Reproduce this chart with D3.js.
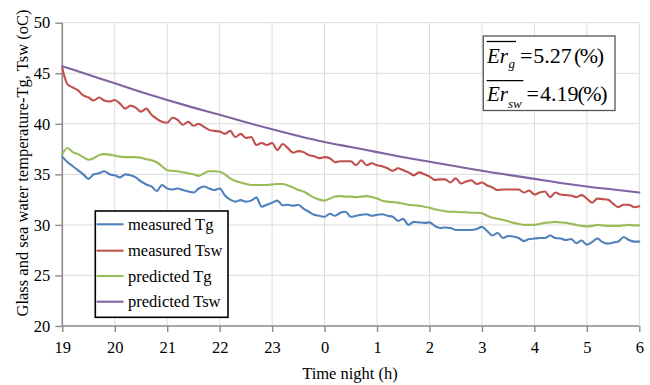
<!DOCTYPE html>
<html>
<head>
<meta charset="utf-8">
<script src="https://cdn.jsdelivr.net/npm/d3@7"></script>
<style>
  html, body { margin: 0; padding: 0; background: #fff; }
  svg { display: block; }
  text { font-family: "Liberation Serif", "Times New Roman", serif; fill: #000; }
</style>
</head>
<body>
<svg id="chart" width="650" height="385"></svg>
<script>
// Night-time glass (Tg) and sea water (Tsw) temperatures, 19:00 to 06:00.
// Measured series and predicted Tg are sampled every 0.1 h; predicted Tsw every 0.5 h.
const startHour = 19;
const sampleStep = 0.1;
const predictedTswStep = 0.5;

const measuredTg = [
  36.75, 36.2, 35.8, 35.4, 35.0, 34.55, 35.0, 35.1, 35.3, 35.0,
  34.9, 34.7, 35.0, 34.9, 34.7, 34.3, 34.0, 33.8, 33.35, 33.95,
  33.6, 33.5, 33.6, 33.45, 33.3, 33.2, 33.6, 33.8, 33.6, 33.45,
  33.6, 32.9, 32.5, 32.3, 32.45, 32.3, 32.4, 32.7, 31.8, 32.0,
  32.2, 32.4, 31.95, 32.0, 31.9, 32.0, 31.6, 31.3, 31.0, 30.9,
  30.8, 31.1, 30.9, 31.2, 31.3, 30.8, 30.9, 31.0, 31.05, 30.9,
  31.0, 31.05, 30.9, 30.8, 30.4, 30.6, 30.0, 30.3, 30.25, 30.2,
  30.25, 29.9, 29.7, 29.75, 29.7, 29.5, 29.5, 29.5, 29.5, 29.6,
  29.8, 29.4, 28.95, 29.2, 28.7, 28.9, 28.85, 28.7, 28.4, 28.6,
  28.65, 28.7, 28.7, 28.95, 28.7, 28.65, 28.5, 28.6, 28.2, 28.45,
  28.05, 28.3, 28.65, 28.3, 28.15, 28.25, 28.35, 28.8, 28.5, 28.35,
  28.35
];

const measuredTsw = [
  45.5, 43.9, 43.6, 43.3, 42.8, 42.6, 42.3, 42.6, 42.3, 42.2,
  42.35, 42.0, 41.5, 41.8, 41.6, 41.2, 41.5, 40.9, 40.5, 40.2,
  40.1, 40.6, 40.4, 39.9, 40.2, 39.8, 40.0, 39.7, 39.4, 39.3,
  39.25, 39.0, 39.3, 38.7, 39.0, 38.6, 38.7, 37.9, 38.1, 37.9,
  38.1, 37.4, 38.0, 37.6, 37.15, 37.3, 37.2, 36.9, 36.8, 36.6,
  36.7, 36.6, 36.2, 36.3, 36.3, 36.3, 35.9, 36.4, 35.9, 36.1,
  35.9, 35.8, 35.6, 35.35, 35.6, 35.4, 35.2, 34.9, 35.2, 35.0,
  34.8, 34.45, 34.5, 34.5, 34.2, 34.6, 34.1, 34.3, 34.4, 34.05,
  34.2, 33.9, 33.7, 33.45, 33.5, 33.5, 33.5, 33.5, 33.2, 33.4,
  33.0, 33.2, 33.3, 32.75, 33.2, 33.0, 32.95, 32.9, 32.75, 32.95,
  32.6, 32.2, 32.6, 32.55, 32.5, 32.1, 31.75, 32.0, 32.0, 31.75,
  31.85
];

const predictedTg = [
  37.0, 37.6, 37.2, 37.0, 36.7, 36.45, 36.6, 36.9, 37.0, 36.95,
  36.85, 36.75, 36.7, 36.7, 36.7, 36.65, 36.5, 36.4, 36.2, 35.8,
  35.4, 35.35, 35.3, 35.2, 35.1, 35.0, 34.85, 35.1, 35.3, 35.3,
  35.25, 35.0, 34.6, 34.35, 34.2, 34.05, 33.95, 33.95, 33.95, 33.95,
  34.0, 34.05, 34.05, 33.9, 33.7, 33.45, 33.3, 33.0, 32.7, 32.5,
  32.4, 32.6, 32.8, 32.85, 32.8, 32.8, 32.75, 32.8, 32.85, 32.75,
  32.6, 32.4, 32.3, 32.25, 32.2, 32.1, 32.0, 31.95, 31.9, 31.8,
  31.7, 31.55, 31.45, 31.35, 31.3, 31.3, 31.25, 31.25, 31.2, 31.2,
  31.15, 30.9, 30.7, 30.6, 30.5, 30.35, 30.2, 30.1, 30.0, 30.0,
  30.0, 30.1, 30.2, 30.25, 30.3, 30.25, 30.2, 30.1, 30.0, 29.9,
  29.85, 29.9, 30.0, 29.95, 29.9, 29.9, 29.9, 29.95, 30.0, 29.95,
  29.95
];

const predictedTsw = [
  45.7, 44.85, 44.0, 43.15, 42.35, 41.6, 40.9, 40.15, 39.45, 38.8,
  38.2, 37.7, 37.2, 36.7, 36.25, 35.8, 35.35, 34.95, 34.55, 34.15,
  33.8, 33.5, 33.2
];

const seriesNames = ["measured Tg", "measured Tsw", "predicted Tg", "predicted Tsw"];
const seriesColors = ["#4F81BD", "#C0504D", "#9BBB59", "#8064A2"];

const xTickValues = [19, 20, 21, 22, 23, 24, 25, 26, 27, 28, 29, 30];
const xTickLabels = ["19", "20", "21", "22", "23", "0", "1", "2", "3", "4", "5", "6"];
const yTickValues = [20, 25, 30, 35, 40, 45, 50];

const xTitle = "Time night (h)";
const yTitle = "Glass and sea water temperature-Tg, Tsw (oC)";
const errorLabels = [
  { sym: "Er", sub: "g", value: "5.27", unit: "(%)" },
  { sym: "Er", sub: "sw", value: "4.19", unit: "(%)" }
];

const serif = '"Liberation Serif", "Times New Roman", serif';

// ---- layout ----
const svg = d3.select("#chart");
const plot = { left: 62.3, right: 639.3, top: 22.7, bottom: 326 };

const x = d3.scaleLinear().domain([19, 30]).range([plot.left, plot.right]);
const y = d3.scaleLinear().domain([20, 50]).range([plot.bottom, plot.top]);

// gridlines
const grid = svg.append("g");
grid.selectAll("line.v").data(xTickValues.slice(1)).join("line")
  .attr("x1", d => x(d)).attr("x2", d => x(d))
  .attr("y1", plot.top).attr("y2", plot.bottom)
  .attr("stroke", "#dcdcdc").attr("stroke-width", 1);
grid.selectAll("line.h").data(yTickValues.slice(1)).join("line")
  .attr("x1", plot.left).attr("x2", plot.right)
  .attr("y1", d => y(d)).attr("y2", d => y(d))
  .attr("stroke", "#dcdcdc").attr("stroke-width", 1);

// axes
const xAxis = d3.axisBottom(x).tickValues(xTickValues)
  .tickFormat((d, i) => xTickLabels[i]).tickSize(6).tickPadding(9);
const yAxis = d3.axisLeft(y).tickValues(yTickValues).tickSize(7).tickPadding(5);

const gx = svg.append("g").attr("transform", `translate(0,${plot.bottom})`).call(xAxis);
const gy = svg.append("g").attr("transform", `translate(${plot.left},0)`).call(yAxis);
[gx, gy].forEach(g => {
  g.attr("font-family", serif).attr("font-size", 16.5);
  g.select(".domain").attr("stroke", "#8a8a8a").attr("stroke-width", 1.6);
  g.selectAll(".tick line").attr("stroke", "#8a8a8a").attr("stroke-width", 1.4);
  g.selectAll(".tick text").attr("fill", "#000");
});
gy.select(".domain").attr("d", `M0,${plot.bottom}V${plot.top}`);
gx.select(".domain").attr("d", `M${plot.left},0H${plot.right}`);

// series
const sampled = vals => vals.map((v, i) => ({ t: startHour + i * sampleStep, v }));
const seriesData = [
  sampled(measuredTg),
  sampled(measuredTsw),
  sampled(predictedTg),
  predictedTsw.map((v, i) => ({ t: startHour + i * predictedTswStep, v }))
];
const line = d3.line().x(d => x(d.t)).y(d => y(d.v)).curve(d3.curveMonotoneX);

svg.append("g").selectAll("path").data(seriesData).join("path")
  .attr("d", line)
  .attr("fill", "none")
  .attr("stroke", (d, i) => seriesColors[i])
  .attr("stroke-width", 2.1)
  .attr("stroke-linejoin", "round")
  .attr("stroke-linecap", "round");

// axis titles
svg.append("text")
  .attr("x", 350).attr("y", 379)
  .attr("text-anchor", "middle")
  .style("font-size", "16.5px")
  .text(xTitle);
svg.append("text")
  .attr("transform", "translate(28,163) rotate(-90)")
  .attr("text-anchor", "middle")
  .style("font-size", "16.5px")
  .text(yTitle);

// legend
const legend = svg.append("g");
legend.append("rect")
  .attr("x", 95.3).attr("y", 211).attr("width", 132.7).attr("height", 106.3)
  .attr("fill", "#fff").attr("stroke", "#000").attr("stroke-width", 1.6);
const legendRows = [224.3, 250.7, 276, 301.7];
seriesNames.forEach((name, i) => {
  legend.append("line")
    .attr("x1", 96.5).attr("x2", 123.5)
    .attr("y1", legendRows[i]).attr("y2", legendRows[i])
    .attr("stroke", seriesColors[i]).attr("stroke-width", 2.1);
  legend.append("text")
    .attr("x", 128).attr("y", legendRows[i] + 5.5)
    .style("font-size", "16.5px")
    .text(name);
});

// mean relative error box
const errBox = svg.append("g");
errBox.append("rect")
  .attr("x", 483.3).attr("y", 36).attr("width", 131.7).attr("height", 74.5)
  .attr("fill", "#fff").attr("stroke", "#555").attr("stroke-width", 1.3);
const errRows = [
  { base: 62.5, subBase: 67.5, subX: 508.5, overY: 41.5, overEnd: 516, eqX: 520, valX: 533.3, unitX: 574 },
  { base: 100.5, subBase: 108, subX: 508, overY: 80.7, overEnd: 523.3, eqX: 526.5, valX: 540, unitX: 577.5 }
];
errorLabels.forEach((e, i) => {
  const r = errRows[i];
  errBox.append("line")
    .attr("x1", 486.7).attr("x2", r.overEnd)
    .attr("y1", r.overY).attr("y2", r.overY)
    .attr("stroke", "#000").attr("stroke-width", 1.3);
  errBox.append("text").attr("x", 487).attr("y", r.base)
    .style("font-size", "21px").style("font-style", "italic").text(e.sym);
  errBox.append("text").attr("x", r.subX).attr("y", r.subBase)
    .style("font-size", "13px").style("font-style", "italic").text(e.sub);
  errBox.append("text").attr("x", r.eqX).attr("y", r.base)
    .style("font-size", "22px").text("=");
  errBox.append("text").attr("x", r.valX).attr("y", r.base)
    .style("font-size", "22px").text(e.value);
  errBox.append("text").attr("x", r.unitX).attr("y", r.base)
    .style("font-size", "22px").attr("textLength", 30).text(e.unit);
});
</script>
</body>
</html>
